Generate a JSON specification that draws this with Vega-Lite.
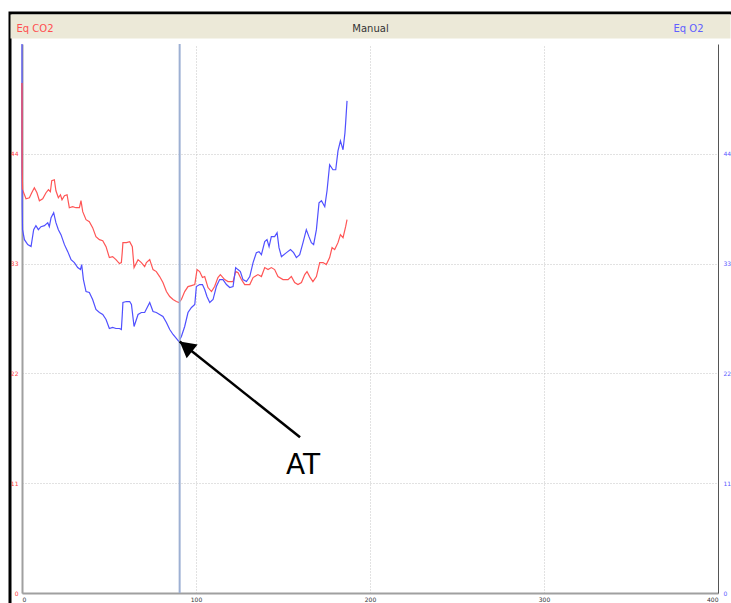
{
  "$schema": "https://vega.github.io/schema/vega-lite/v6.json",
  "width": 721,
  "height": 590,
  "autosize": "none",
  "padding": {"left": 10, "top": 13, "right": 0, "bottom": 0},
  "background": "white",
  "config": {
    "view": {"fill": "white", "stroke": "black", "strokeWidth": 3, "strokeDash": [721, 1311, 590, 10]},
    "axis": {"labelFont": "DejaVu Sans", "labelFontSize": 6, "ticks": false, "titleFont": "DejaVu Sans", "titleFontWeight": "normal"}
  },
  "datasets": {
    "eqco2": [
      {"t": 0, "v": 51.1}, {"t": 0.1, "v": 42.7}, {"t": 0.3, "v": 40.4}, {"t": 2.3, "v": 39.5},
      {"t": 4.25, "v": 39.6}, {"t": 5.6, "v": 40.1}, {"t": 7.1, "v": 40.6}, {"t": 8.6, "v": 40.1},
      {"t": 10.0, "v": 39.3}, {"t": 11.9, "v": 39.5}, {"t": 13.8, "v": 40.1}, {"t": 15.2, "v": 40.4},
      {"t": 16.3, "v": 40.2}, {"t": 17.1, "v": 41.3}, {"t": 18.6, "v": 41.4}, {"t": 19.5, "v": 40.3},
      {"t": 20.9, "v": 39.6}, {"t": 22.1, "v": 39.9}, {"t": 23.0, "v": 39.4}, {"t": 24.4, "v": 39.8},
      {"t": 25.9, "v": 39.9}, {"t": 27.2, "v": 38.6}, {"t": 29.1, "v": 38.7}, {"t": 31.0, "v": 38.6},
      {"t": 33.0, "v": 38.6}, {"t": 33.9, "v": 39.3}, {"t": 34.9, "v": 38.2}, {"t": 36.8, "v": 37.4},
      {"t": 38.7, "v": 37.2}, {"t": 40.6, "v": 36.6}, {"t": 42.5, "v": 35.7}, {"t": 44.5, "v": 35.4},
      {"t": 46.4, "v": 35.3}, {"t": 48.3, "v": 34.7}, {"t": 50.2, "v": 33.6}, {"t": 52.1, "v": 33.7},
      {"t": 54.0, "v": 33.4}, {"t": 56.0, "v": 33.0}, {"t": 57.1, "v": 33.1}, {"t": 57.6, "v": 34.1},
      {"t": 58.0, "v": 35.1}, {"t": 60.0, "v": 35.1}, {"t": 61.9, "v": 35.2}, {"t": 63.4, "v": 34.7},
      {"t": 64.4, "v": 32.6}, {"t": 66.7, "v": 33.4}, {"t": 68.6, "v": 33.1}, {"t": 70.5, "v": 32.7},
      {"t": 71.5, "v": 33.1}, {"t": 73.4, "v": 33.4}, {"t": 75.3, "v": 32.4}, {"t": 77.2, "v": 32.2},
      {"t": 79.1, "v": 31.7}, {"t": 81.0, "v": 31.1}, {"t": 83.0, "v": 30.2}, {"t": 84.9, "v": 29.7},
      {"t": 86.8, "v": 29.4}, {"t": 88.7, "v": 29.2}, {"t": 90.2, "v": 29.1}, {"t": 91.6, "v": 29.4},
      {"t": 93.5, "v": 30.2}, {"t": 95.4, "v": 30.7}, {"t": 97.4, "v": 30.8}, {"t": 99.3, "v": 30.9},
      {"t": 100.6, "v": 32.4}, {"t": 102.1, "v": 32.2}, {"t": 103.7, "v": 31.6}, {"t": 105.0, "v": 31.7},
      {"t": 106.9, "v": 30.6}, {"t": 108.9, "v": 30.2}, {"t": 110.7, "v": 30.7}, {"t": 112.6, "v": 31.6},
      {"t": 114.0, "v": 31.9}, {"t": 116.5, "v": 31.4}, {"t": 118.4, "v": 31.2}, {"t": 121.3, "v": 31.2},
      {"t": 122.8, "v": 32.2}, {"t": 124.1, "v": 32.1}, {"t": 126.1, "v": 31.4}, {"t": 128.0, "v": 30.9},
      {"t": 130.9, "v": 30.9}, {"t": 132.8, "v": 31.6}, {"t": 135.6, "v": 31.9}, {"t": 137.6, "v": 31.7},
      {"t": 139.5, "v": 32.6}, {"t": 141.4, "v": 32.4}, {"t": 143.3, "v": 32.6}, {"t": 145.2, "v": 32.4},
      {"t": 147.1, "v": 31.7}, {"t": 150.0, "v": 31.4}, {"t": 152.9, "v": 31.4}, {"t": 154.8, "v": 31.7},
      {"t": 156.7, "v": 31.1}, {"t": 158.6, "v": 30.9}, {"t": 160.6, "v": 31.1}, {"t": 162.5, "v": 31.9},
      {"t": 163.8, "v": 32.2}, {"t": 165.3, "v": 31.7}, {"t": 167.2, "v": 31.2}, {"t": 169.2, "v": 31.7},
      {"t": 171.1, "v": 33.1}, {"t": 173.0, "v": 33.1}, {"t": 174.9, "v": 32.9}, {"t": 176.8, "v": 33.6},
      {"t": 178.2, "v": 34.6}, {"t": 179.7, "v": 34.4}, {"t": 181.6, "v": 35.1}, {"t": 183.0, "v": 35.9},
      {"t": 184.5, "v": 35.6}, {"t": 186.0, "v": 36.7}, {"t": 186.8, "v": 37.4}
    ],
    "eqo2": [
      {"t": 0, "v": 55.0}, {"t": 0.05, "v": 43.4}, {"t": 0.1, "v": 38.8}, {"t": 0.3, "v": 36.4},
      {"t": 1.4, "v": 35.4}, {"t": 3.3, "v": 34.9}, {"t": 5.2, "v": 34.7}, {"t": 6.7, "v": 36.4},
      {"t": 8.0, "v": 36.8}, {"t": 9.4, "v": 36.4}, {"t": 10.9, "v": 36.7}, {"t": 12.9, "v": 36.8},
      {"t": 14.8, "v": 37.1}, {"t": 15.7, "v": 36.7}, {"t": 16.7, "v": 37.6}, {"t": 18.2, "v": 38.1},
      {"t": 19.5, "v": 37.1}, {"t": 20.9, "v": 36.4}, {"t": 22.4, "v": 35.9}, {"t": 24.4, "v": 34.9},
      {"t": 26.3, "v": 34.2}, {"t": 28.2, "v": 33.4}, {"t": 30.1, "v": 33.1}, {"t": 32.0, "v": 32.6},
      {"t": 33.6, "v": 32.4}, {"t": 34.3, "v": 32.9}, {"t": 35.3, "v": 31.4}, {"t": 36.8, "v": 30.2},
      {"t": 38.7, "v": 30.1}, {"t": 40.6, "v": 29.4}, {"t": 42.5, "v": 28.4}, {"t": 44.5, "v": 28.1},
      {"t": 46.4, "v": 27.9}, {"t": 48.3, "v": 27.4}, {"t": 50.2, "v": 26.5}, {"t": 52.1, "v": 26.6},
      {"t": 54.0, "v": 26.5}, {"t": 56.0, "v": 26.5}, {"t": 57.1, "v": 26.4}, {"t": 57.6, "v": 27.8},
      {"t": 58.0, "v": 29.1}, {"t": 60.0, "v": 29.2}, {"t": 61.9, "v": 29.2}, {"t": 62.9, "v": 28.9},
      {"t": 64.4, "v": 26.7}, {"t": 66.7, "v": 27.9}, {"t": 68.6, "v": 28.1}, {"t": 70.5, "v": 28.1},
      {"t": 73.4, "v": 29.1}, {"t": 75.3, "v": 28.2}, {"t": 77.2, "v": 28.1}, {"t": 79.1, "v": 27.9},
      {"t": 81.0, "v": 27.7}, {"t": 83.0, "v": 27.1}, {"t": 84.9, "v": 26.4}, {"t": 86.8, "v": 25.9},
      {"t": 88.7, "v": 25.5}, {"t": 90.1, "v": 25.2}, {"t": 91.6, "v": 25.7}, {"t": 93.5, "v": 26.7},
      {"t": 95.4, "v": 28.1}, {"t": 97.4, "v": 28.6}, {"t": 99.3, "v": 28.9}, {"t": 100.2, "v": 30.7},
      {"t": 102.1, "v": 30.9}, {"t": 103.7, "v": 30.9}, {"t": 105.0, "v": 30.4}, {"t": 106.3, "v": 29.7},
      {"t": 107.9, "v": 29.1}, {"t": 109.8, "v": 29.4}, {"t": 111.7, "v": 30.7}, {"t": 113.6, "v": 31.4},
      {"t": 115.5, "v": 31.4}, {"t": 117.5, "v": 30.9}, {"t": 119.4, "v": 30.6}, {"t": 121.3, "v": 30.7},
      {"t": 122.8, "v": 32.6}, {"t": 124.1, "v": 32.4}, {"t": 125.5, "v": 32.2}, {"t": 127.0, "v": 31.4},
      {"t": 129.0, "v": 31.2}, {"t": 130.9, "v": 31.7}, {"t": 132.8, "v": 33.1}, {"t": 134.7, "v": 34.1},
      {"t": 136.2, "v": 34.2}, {"t": 137.6, "v": 33.9}, {"t": 139.5, "v": 35.2}, {"t": 140.8, "v": 35.4},
      {"t": 142.0, "v": 34.7}, {"t": 143.3, "v": 35.7}, {"t": 145.2, "v": 35.7}, {"t": 146.6, "v": 36.1},
      {"t": 147.7, "v": 34.6}, {"t": 149.1, "v": 33.7}, {"t": 152.0, "v": 34.1}, {"t": 154.3, "v": 34.4},
      {"t": 156.1, "v": 34.1}, {"t": 157.7, "v": 33.6}, {"t": 159.6, "v": 33.9}, {"t": 161.5, "v": 35.1},
      {"t": 163.4, "v": 36.4}, {"t": 164.9, "v": 35.7}, {"t": 166.3, "v": 35.1}, {"t": 167.6, "v": 34.9},
      {"t": 169.2, "v": 36.4}, {"t": 170.7, "v": 39.1}, {"t": 172.1, "v": 39.3}, {"t": 174.0, "v": 38.7},
      {"t": 175.3, "v": 40.3}, {"t": 176.8, "v": 42.9}, {"t": 178.7, "v": 42.4}, {"t": 180.3, "v": 42.4},
      {"t": 181.6, "v": 44.3}, {"t": 183.0, "v": 45.3}, {"t": 184.5, "v": 44.4}, {"t": 185.6, "v": 46.1},
      {"t": 186.0, "v": 47.1}, {"t": 186.8, "v": 49.3}
    ],
    "threshold": [
      {"label": "AT", "t": 90.6, "v": 25.2, "labelT": 159.8, "labelV": 15.6}
    ]
  },
  "layer": [
    {
      "data": {"name": "eqco2"},
      "mark": {"type": "line", "color": "#ff5555", "strokeWidth": 1.2},
      "encoding": {
        "x": {
          "field": "t", "type": "quantitative",
          "scale": {"domain": [0, 400], "range": [12, 708], "nice": false},
          "axis": {
            "orient": "bottom", "offset": -10, "values": [0, 100, 200, 300, 400], "title": null,
            "domainColor": "#a0a0a0", "domainWidth": 2, "labelColor": "#333333", "labelPadding": 552,
            "grid": false, "ticks": true, "tickSize": -549, "tickColor": "#c4c4c4", "tickDash": [1, 2], "tickWidth": 1,
            "zindex": 0
          }
        },
        "y": {
          "field": "v", "type": "quantitative",
          "scale": {"domain": [0, 55], "range": [580, 31], "nice": false, "zero": true},
          "axis": {
            "orient": "left", "offset": -12, "values": [0, 11, 22, 33, 44],
            "domainColor": "#a0a0a0", "domainWidth": 2, "labelColor": "#ff4040", "labelPadding": 4,
            "grid": true, "gridColor": "#c4c4c4", "gridDash": [1, 2], "gridWidth": 1,
            "title": "Eq CO2", "titleAngle": 0, "titleX": -6, "titleY": 15, "titleAlign": "left",
            "titleBaseline": "middle", "titleColor": "#ff5050", "titleFontSize": 10, "zindex": 0
          }
        }
      }
    },
    {
      "data": {"name": "eqo2"},
      "mark": {"type": "line", "color": "#5050ff", "strokeWidth": 1.2},
      "encoding": {
        "x": {
          "field": "t", "type": "quantitative",
          "axis": {
            "orient": "top", "offset": -13, "labels": false, "grid": false,
            "domainColor": "#ece9d8", "domainWidth": 24, "domainCap": "square",
            "title": "Manual", "titleY": 2, "titleBaseline": "middle", "titleColor": "#333333",
            "titleFontSize": 10, "zindex": 0
          }
        },
        "y": {
          "field": "v", "type": "quantitative",
          "axis": {
            "orient": "right", "offset": -13, "values": [0, 11, 22, 33, 44], "grid": false,
            "domainColor": "#555555", "domainWidth": 1, "labelColor": "#5a5aff", "labelPadding": 5,
            "title": "Eq O2", "titleAngle": 0, "titleX": -30, "titleY": 15, "titleAlign": "center",
            "titleBaseline": "middle", "titleColor": "#6060ff", "titleFontSize": 10, "zindex": 0
          }
        }
      }
    },
    {
      "data": {"name": "eqco2"},
      "transform": [{"filter": "datum.t <= 0.3"}],
      "mark": {"type": "line", "color": "#ff5555", "strokeWidth": 1.2},
      "encoding": {
        "x": {"field": "t", "type": "quantitative", "axis": null},
        "y": {"field": "v", "type": "quantitative", "axis": null}
      }
    },
    {
      "data": {"name": "threshold"},
      "mark": {"type": "rule", "color": "#9db0d3", "strokeWidth": 2},
      "encoding": {
        "x": {"field": "t", "type": "quantitative", "axis": null},
        "y": {"datum": 0, "type": "quantitative", "axis": null},
        "y2": {"datum": 55}
      }
    },
    {
      "data": {"name": "threshold"},
      "mark": {"type": "rule", "color": "black", "strokeWidth": 2.5},
      "encoding": {
        "x": {"field": "t", "type": "quantitative", "axis": null},
        "y": {"field": "v", "type": "quantitative", "axis": null},
        "x2": {"field": "labelT"},
        "y2": {"field": "labelV"}
      }
    },
    {
      "data": {"name": "threshold"},
      "mark": {"type": "point", "shape": "M0,0L1.1,2L-1.1,2Z", "filled": true, "color": "black", "opacity": 1, "size": 256, "angle": 308.7},
      "encoding": {
        "x": {"field": "t", "type": "quantitative", "axis": null},
        "y": {"field": "v", "type": "quantitative", "axis": null}
      }
    },
    {
      "data": {"name": "threshold"},
      "mark": {"type": "text", "font": "DejaVu Sans", "fontSize": 28, "color": "black", "align": "center", "baseline": "alphabetic", "dx": 3, "dy": 37},
      "encoding": {
        "x": {"field": "labelT", "type": "quantitative", "axis": null},
        "y": {"field": "labelV", "type": "quantitative", "axis": null},
        "text": {"field": "label"}
      }
    }
  ],
  "resolve": {"axis": {"x": "independent", "y": "independent"}}
}
